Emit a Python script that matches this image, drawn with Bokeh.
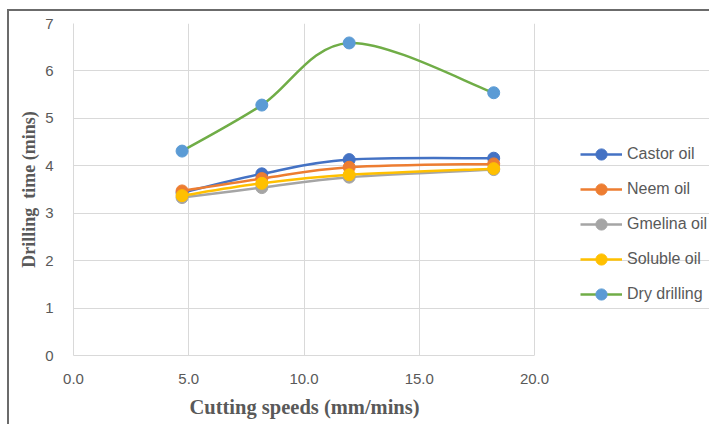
from bokeh.plotting import figure
from bokeh.models import (Legend, LegendItem, ColumnDataSource, FixedTicker,
                          NumeralTickFormatter, Range1d, Title)
from bokeh.embed import file_html
from bokeh.resources import INLINE

# ---- data ----
speeds = [4.71, 8.17, 11.96, 18.23]
castor = [3.43, 3.83, 4.13, 4.16]
neem = [3.47, 3.73, 3.97, 4.04]
gmelina = [3.33, 3.54, 3.76, 3.92]
soluble = [3.37, 3.63, 3.81, 3.94]
dry = [4.31, 5.28, 6.59, 5.54]

series_names = ["Castor oil", "Neem oil", "Gmelina oil", "Soluble oil", "Dry drilling"]
series_values = [castor, neem, gmelina, soluble, dry]
line_colors = ["#4472C4", "#ED7D31", "#A5A5A5", "#FFC000", "#70AD47"]
marker_colors = ["#4472C4", "#ED7D31", "#A5A5A5", "#FFC000", "#5B9BD5"]

x_ticks = [0, 5, 10, 15, 20]
y_ticks = [0, 1, 2, 3, 4, 5, 6, 7]
x_min, x_max = 0, 20
y_min, y_max = 0, 7


def smooth_segments(xs, ys):
    """Catmull-Rom style Bezier control points for a smoothed line."""
    n = len(xs)
    d = dict(x0=[], y0=[], x1=[], y1=[], cx0=[], cy0=[], cx1=[], cy1=[])
    for i in range(n - 1):
        xp, yp = (xs[i - 1], ys[i - 1]) if i > 0 else (xs[i], ys[i])
        xn, yn = (xs[i + 2], ys[i + 2]) if i + 2 < n else (xs[i + 1], ys[i + 1])
        d["x0"].append(xs[i]); d["y0"].append(ys[i])
        d["x1"].append(xs[i + 1]); d["y1"].append(ys[i + 1])
        d["cx0"].append(xs[i] + (xs[i + 1] - xp) / 6.0)
        d["cy0"].append(ys[i] + (ys[i + 1] - yp) / 6.0)
        d["cx1"].append(xs[i + 1] - (xn - xs[i]) / 6.0)
        d["cy1"].append(ys[i + 1] - (yn - ys[i]) / 6.0)
    return d


# layout (pixels)
fig_w, fig_h = 702, 415
border_l, border_r, border_t, border_b = 64, 2, 12, 71
plot_px = 461                      # pixel width of the 0..20 data area
frame_w = fig_w - border_l - border_r
x_end = x_min + (x_max - x_min) * frame_w / plot_px

p = figure(width=fig_w, height=fig_h, x_range=Range1d(x_min, x_end),
           y_range=Range1d(y_min, y_max),
           output_backend="svg", toolbar_location=None,
           min_border_left=border_l, min_border_right=border_r,
           min_border_top=border_t, min_border_bottom=border_b)
p.margin = (9, 0, 0, 7)
p.styles = {"border-left": "2px solid #6b6b6b", "border-top": "2px solid #6b6b6b"}

p.outline_line_color = None
p.background_fill_color = "white"
p.border_fill_color = "white"

for ax in (p.xaxis[0], p.yaxis[0]):
    ax.axis_line_color = "#d9d9d9"
    ax.major_tick_line_color = None
    ax.minor_tick_line_color = None
    ax.major_label_text_color = "#595959"
    ax.major_label_text_font = "Liberation Sans"
    ax.major_label_text_font_size = "15px"
    ax.axis_label_text_color = "#595959"
    ax.axis_label_text_font = "Liberation Serif"
    ax.axis_label_text_font_style = "bold"

p.xaxis.bounds = (x_min, x_max)
p.xaxis.ticker = FixedTicker(ticks=x_ticks)
p.yaxis.ticker = FixedTicker(ticks=y_ticks)
p.xaxis.formatter = NumeralTickFormatter(format="0.0")
p.yaxis.axis_label = "Drilling\u00a0 time (mins)"
p.yaxis.axis_label_text_font_size = "18px"
p.xaxis.major_label_standoff = 12
p.yaxis.major_label_standoff = 14
p.yaxis.axis_label_standoff = 3

xtitle = Title(text="Cutting speeds (mm/mins)", align="left", offset=116,
               text_font="Liberation Serif", text_font_style="bold",
               text_font_size="20.5px", text_color="#595959", standoff=14)
p.add_layout(xtitle, "below")

p.xgrid.ticker = FixedTicker(ticks=x_ticks)
p.ygrid.ticker = FixedTicker(ticks=y_ticks)
p.xgrid.grid_line_color = "#d9d9d9"
p.ygrid.grid_line_color = "#d9d9d9"
p.ygrid.bounds = (x_min, x_max)

items = []
for name, vals, lc, mc in zip(series_names, series_values, line_colors, marker_colors):
    src = ColumnDataSource(smooth_segments(speeds, vals))
    r_line = p.bezier(x0="x0", y0="y0", x1="x1", y1="y1", cx0="cx0", cy0="cy0",
                      cx1="cx1", cy1="cy1", source=src, line_color=lc, line_width=2.5)
    r_pts = p.scatter(x=speeds, y=vals, size=12, fill_color=mc, line_color=mc)
    items.append(LegendItem(label=name, renderers=[r_line, r_pts]))

legend = Legend(items=items, location=(507, 47))
legend.label_text_font = "Liberation Sans"
legend.label_text_font_size = "16px"
legend.label_text_color = "#595959"
legend.glyph_width = 42
legend.glyph_height = 28
legend.label_height = 28
legend.spacing = 7
legend.padding = 0
legend.margin = 0
legend.label_standoff = 5
legend.border_line_color = None
legend.background_fill_alpha = 0
p.add_layout(legend)

open("out.html", "w").write(file_html(p, INLINE))
